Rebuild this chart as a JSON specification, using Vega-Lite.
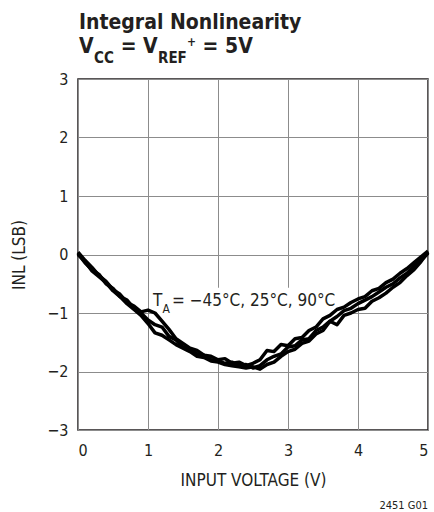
{
 "$schema": "https://vega.github.io/schema/vega-lite/v6.json",
 "width": 350, "height": 351,
 "autosize": {"type": "none"},
 "padding": {"left": 78, "top": 79, "right": 6, "bottom": 82},
 "background": "white",
 "config": {
  "view": {"stroke": "#231f20", "strokeWidth": 1.5},
  "font": "DejaVu Sans Condensed, Roboto, sans-serif",
  "axis": {"grid": true, "gridColor": "#8c8c8c", "gridWidth": 1, "domain": false, "ticks": false,
   "labelFont": "DejaVu Sans Condensed, Roboto, sans-serif", "labelFontSize": 16, "labelColor": "#231f20",
   "titleFont": "DejaVu Sans Condensed, Roboto, sans-serif", "titleFontSize": 17, "titleFontWeight": "normal", "titleColor": "#231f20"}
 },
 "datasets": {
  "inl": [
   {"v":0.0,"inl":0.04,"t":"-45"},{"v":0.1,"inl":-0.10,"t":"-45"},{"v":0.2,"inl":-0.22,"t":"-45"},{"v":0.3,"inl":-0.36,"t":"-45"},{"v":0.4,"inl":-0.46,"t":"-45"},{"v":0.5,"inl":-0.60,"t":"-45"},{"v":0.6,"inl":-0.68,"t":"-45"},{"v":0.7,"inl":-0.82,"t":"-45"},{"v":0.8,"inl":-0.88,"t":"-45"},{"v":0.9,"inl":-0.98,"t":"-45"},
   {"v":1.0,"inl":-0.95,"t":"-45"},{"v":1.1,"inl":-1.00,"t":"-45"},{"v":1.2,"inl":-1.14,"t":"-45"},{"v":1.3,"inl":-1.28,"t":"-45"},{"v":1.4,"inl":-1.44,"t":"-45"},{"v":1.5,"inl":-1.52,"t":"-45"},{"v":1.6,"inl":-1.60,"t":"-45"},{"v":1.7,"inl":-1.64,"t":"-45"},{"v":1.8,"inl":-1.72,"t":"-45"},{"v":1.9,"inl":-1.74,"t":"-45"},
   {"v":2.0,"inl":-1.80,"t":"-45"},{"v":2.1,"inl":-1.78,"t":"-45"},{"v":2.2,"inl":-1.86,"t":"-45"},{"v":2.3,"inl":-1.84,"t":"-45"},{"v":2.4,"inl":-1.90,"t":"-45"},{"v":2.5,"inl":-1.86,"t":"-45"},{"v":2.6,"inl":-1.80,"t":"-45"},{"v":2.7,"inl":-1.64,"t":"-45"},{"v":2.8,"inl":-1.66,"t":"-45"},{"v":2.9,"inl":-1.54,"t":"-45"},
   {"v":3.0,"inl":-1.56,"t":"-45"},{"v":3.1,"inl":-1.44,"t":"-45"},{"v":3.2,"inl":-1.42,"t":"-45"},{"v":3.3,"inl":-1.30,"t":"-45"},{"v":3.4,"inl":-1.24,"t":"-45"},{"v":3.5,"inl":-1.10,"t":"-45"},{"v":3.6,"inl":-1.04,"t":"-45"},{"v":3.7,"inl":-0.94,"t":"-45"},{"v":3.8,"inl":-0.90,"t":"-45"},{"v":3.9,"inl":-0.82,"t":"-45"},
   {"v":4.0,"inl":-0.76,"t":"-45"},{"v":4.1,"inl":-0.72,"t":"-45"},{"v":4.2,"inl":-0.62,"t":"-45"},{"v":4.3,"inl":-0.58,"t":"-45"},{"v":4.4,"inl":-0.48,"t":"-45"},{"v":4.5,"inl":-0.42,"t":"-45"},{"v":4.6,"inl":-0.32,"t":"-45"},{"v":4.7,"inl":-0.24,"t":"-45"},{"v":4.8,"inl":-0.14,"t":"-45"},{"v":4.9,"inl":-0.04,"t":"-45"},{"v":5.0,"inl":0.06,"t":"-45"},

   {"v":0.0,"inl":0.02,"t":"25"},{"v":0.1,"inl":-0.14,"t":"25"},{"v":0.2,"inl":-0.26,"t":"25"},{"v":0.3,"inl":-0.34,"t":"25"},{"v":0.4,"inl":-0.50,"t":"25"},{"v":0.5,"inl":-0.58,"t":"25"},{"v":0.6,"inl":-0.72,"t":"25"},{"v":0.7,"inl":-0.78,"t":"25"},{"v":0.8,"inl":-0.92,"t":"25"},{"v":0.9,"inl":-1.00,"t":"25"},
   {"v":1.0,"inl":-1.12,"t":"25"},{"v":1.1,"inl":-1.20,"t":"25"},{"v":1.2,"inl":-1.24,"t":"25"},{"v":1.3,"inl":-1.40,"t":"25"},{"v":1.4,"inl":-1.46,"t":"25"},{"v":1.5,"inl":-1.58,"t":"25"},{"v":1.6,"inl":-1.62,"t":"25"},{"v":1.7,"inl":-1.70,"t":"25"},{"v":1.8,"inl":-1.72,"t":"25"},{"v":1.9,"inl":-1.80,"t":"25"},
   {"v":2.0,"inl":-1.82,"t":"25"},{"v":2.1,"inl":-1.86,"t":"25"},{"v":2.2,"inl":-1.84,"t":"25"},{"v":2.3,"inl":-1.90,"t":"25"},{"v":2.4,"inl":-1.88,"t":"25"},{"v":2.5,"inl":-1.94,"t":"25"},{"v":2.6,"inl":-1.90,"t":"25"},{"v":2.7,"inl":-1.80,"t":"25"},{"v":2.8,"inl":-1.74,"t":"25"},{"v":2.9,"inl":-1.70,"t":"25"},
   {"v":3.0,"inl":-1.58,"t":"25"},{"v":3.1,"inl":-1.56,"t":"25"},{"v":3.2,"inl":-1.46,"t":"25"},{"v":3.3,"inl":-1.44,"t":"25"},{"v":3.4,"inl":-1.30,"t":"25"},{"v":3.5,"inl":-1.24,"t":"25"},{"v":3.6,"inl":-1.14,"t":"25"},{"v":3.7,"inl":-1.06,"t":"25"},{"v":3.8,"inl":-0.96,"t":"25"},{"v":3.9,"inl":-0.92,"t":"25"},
   {"v":4.0,"inl":-0.84,"t":"25"},{"v":4.1,"inl":-0.78,"t":"25"},{"v":4.2,"inl":-0.72,"t":"25"},{"v":4.3,"inl":-0.64,"t":"25"},{"v":4.4,"inl":-0.56,"t":"25"},{"v":4.5,"inl":-0.50,"t":"25"},{"v":4.6,"inl":-0.40,"t":"25"},{"v":4.7,"inl":-0.32,"t":"25"},{"v":4.8,"inl":-0.20,"t":"25"},{"v":4.9,"inl":-0.10,"t":"25"},{"v":5.0,"inl":0.02,"t":"25"},

   {"v":0.0,"inl":0.00,"t":"90"},{"v":0.1,"inl":-0.12,"t":"90"},{"v":0.2,"inl":-0.28,"t":"90"},{"v":0.3,"inl":-0.38,"t":"90"},{"v":0.4,"inl":-0.48,"t":"90"},{"v":0.5,"inl":-0.62,"t":"90"},{"v":0.6,"inl":-0.72,"t":"90"},{"v":0.7,"inl":-0.84,"t":"90"},{"v":0.8,"inl":-0.94,"t":"90"},{"v":0.9,"inl":-1.04,"t":"90"},
   {"v":1.0,"inl":-1.18,"t":"90"},{"v":1.1,"inl":-1.34,"t":"90"},{"v":1.2,"inl":-1.38,"t":"90"},{"v":1.3,"inl":-1.46,"t":"90"},{"v":1.4,"inl":-1.54,"t":"90"},{"v":1.5,"inl":-1.60,"t":"90"},{"v":1.6,"inl":-1.66,"t":"90"},{"v":1.7,"inl":-1.74,"t":"90"},{"v":1.8,"inl":-1.76,"t":"90"},{"v":1.9,"inl":-1.82,"t":"90"},
   {"v":2.0,"inl":-1.84,"t":"90"},{"v":2.1,"inl":-1.88,"t":"90"},{"v":2.2,"inl":-1.90,"t":"90"},{"v":2.3,"inl":-1.92,"t":"90"},{"v":2.4,"inl":-1.94,"t":"90"},{"v":2.5,"inl":-1.92,"t":"90"},{"v":2.6,"inl":-1.96,"t":"90"},{"v":2.7,"inl":-1.88,"t":"90"},{"v":2.8,"inl":-1.84,"t":"90"},{"v":2.9,"inl":-1.74,"t":"90"},
   {"v":3.0,"inl":-1.66,"t":"90"},{"v":3.1,"inl":-1.62,"t":"90"},{"v":3.2,"inl":-1.52,"t":"90"},{"v":3.3,"inl":-1.48,"t":"90"},{"v":3.4,"inl":-1.36,"t":"90"},{"v":3.5,"inl":-1.30,"t":"90"},{"v":3.6,"inl":-1.14,"t":"90"},{"v":3.7,"inl":-1.20,"t":"90"},{"v":3.8,"inl":-1.04,"t":"90"},{"v":3.9,"inl":-1.00,"t":"90"},
   {"v":4.0,"inl":-0.94,"t":"90"},{"v":4.1,"inl":-0.92,"t":"90"},{"v":4.2,"inl":-0.80,"t":"90"},{"v":4.3,"inl":-0.74,"t":"90"},{"v":4.4,"inl":-0.66,"t":"90"},{"v":4.5,"inl":-0.56,"t":"90"},{"v":4.6,"inl":-0.48,"t":"90"},{"v":4.7,"inl":-0.36,"t":"90"},{"v":4.8,"inl":-0.26,"t":"90"},{"v":4.9,"inl":-0.12,"t":"90"},{"v":5.0,"inl":0.04,"t":"90"}
  ],
  "txt": [
   {"v":0.014,"inl":3.855,"label":"Integral Nonlinearity","part":"head"},
   {"v":0.014,"inl":3.444,"label":"V","part":"head"},
   {"v":0.2286,"inl":3.27,"label":"CC","part":"headsub"},
   {"v":0.609,"inl":3.444,"label":"= V","part":"head"},
   {"v":1.143,"inl":3.27,"label":"REF","part":"headsub"},
   {"v":1.557,"inl":3.56,"label":"+","part":"headsup"},
   {"v":1.78,"inl":3.444,"label":"= 5V","part":"head"},
   {"v":1.071,"inl":-0.88,"label":"T","part":"note"},
   {"v":1.207,"inl":-1.0,"label":"A","part":"notesub"},
   {"v":1.343,"inl":-0.88,"label":"= −45°C, 25°C, 90°C","part":"note"},
   {"v":5.0,"inl":-4.35,"label":"2451 G01","part":"source"}
  ]
 },
 "layer": [
  {
   "data": {"name": "inl"},
   "transform": [{"filter": "datum.t == '90' && datum.v >= 1.1 && datum.v <= 3.9"}],
   "mark": {"type": "area", "color": "white"},
   "encoding": {
    "x": {"field": "v", "type": "quantitative", "scale": {"domain": [0, 5]},
     "axis": {"values": [0,1,2,3,4,5], "format": "d", "title": "INPUT VOLTAGE (V)", "labelPadding": 12, "titlePadding": 14}},
    "y": {"field": "inl", "type": "quantitative", "scale": {"domain": [-3, 3]},
     "axis": {"values": [-3,-2,-1,0,1,2,3], "format": "d", "title": "INL (LSB)", "labelPadding": 10, "titlePadding": 18}},
    "y2": {"datum": -0.57}
   }
  },
  {
   "data": {"name": "inl"},
   "mark": {"type": "line", "color": "black", "strokeWidth": 3.5, "strokeJoin": "round"},
   "encoding": {
    "x": {"field": "v", "type": "quantitative", "scale": {"domain": [0, 5]}},
    "y": {"field": "inl", "type": "quantitative", "scale": {"domain": [-3, 3]}},
    "detail": {"field": "t"}
   }
  },
  {
   "data": {"name": "txt"},
   "transform": [{"filter": "datum.part == 'head'"}],
   "mark": {"type": "text", "align": "left", "baseline": "alphabetic", "fontSize": 21, "fontWeight": "bold", "color": "#231f20"},
   "encoding": {
    "x": {"field": "v", "type": "quantitative", "scale": {"domain": [0, 5]}},
    "y": {"field": "inl", "type": "quantitative", "scale": {"domain": [-3, 3]}},
    "text": {"field": "label"}
   }
  },
  {
   "data": {"name": "txt"},
   "transform": [{"filter": "datum.part == 'headsub'"}],
   "mark": {"type": "text", "align": "left", "baseline": "alphabetic", "fontSize": 15, "fontWeight": "bold", "color": "#231f20"},
   "encoding": {
    "x": {"field": "v", "type": "quantitative", "scale": {"domain": [0, 5]}},
    "y": {"field": "inl", "type": "quantitative", "scale": {"domain": [-3, 3]}},
    "text": {"field": "label"}
   }
  },
  {
   "data": {"name": "txt"},
   "transform": [{"filter": "datum.part == 'headsup'"}],
   "mark": {"type": "text", "align": "left", "baseline": "alphabetic", "fontSize": 12, "fontWeight": "bold", "color": "#231f20"},
   "encoding": {
    "x": {"field": "v", "type": "quantitative", "scale": {"domain": [0, 5]}},
    "y": {"field": "inl", "type": "quantitative", "scale": {"domain": [-3, 3]}},
    "text": {"field": "label"}
   }
  },
  {
   "data": {"name": "txt"},
   "transform": [{"filter": "datum.part == 'note'"}],
   "mark": {"type": "text", "align": "left", "baseline": "alphabetic", "fontSize": 17, "color": "#231f20"},
   "encoding": {
    "x": {"field": "v", "type": "quantitative", "scale": {"domain": [0, 5]}},
    "y": {"field": "inl", "type": "quantitative", "scale": {"domain": [-3, 3]}},
    "text": {"field": "label"}
   }
  },
  {
   "data": {"name": "txt"},
   "transform": [{"filter": "datum.part == 'notesub'"}],
   "mark": {"type": "text", "align": "left", "baseline": "alphabetic", "fontSize": 12, "color": "#231f20"},
   "encoding": {
    "x": {"field": "v", "type": "quantitative", "scale": {"domain": [0, 5]}},
    "y": {"field": "inl", "type": "quantitative", "scale": {"domain": [-3, 3]}},
    "text": {"field": "label"}
   }
  },
  {
   "data": {"name": "txt"},
   "transform": [{"filter": "datum.part == 'source'"}],
   "mark": {"type": "text", "align": "right", "baseline": "alphabetic", "fontSize": 11, "color": "#231f20"},
   "encoding": {
    "x": {"field": "v", "type": "quantitative", "scale": {"domain": [0, 5]}},
    "y": {"field": "inl", "type": "quantitative", "scale": {"domain": [-3, 3]}},
    "text": {"field": "label"}
   }
  }
 ]
}
